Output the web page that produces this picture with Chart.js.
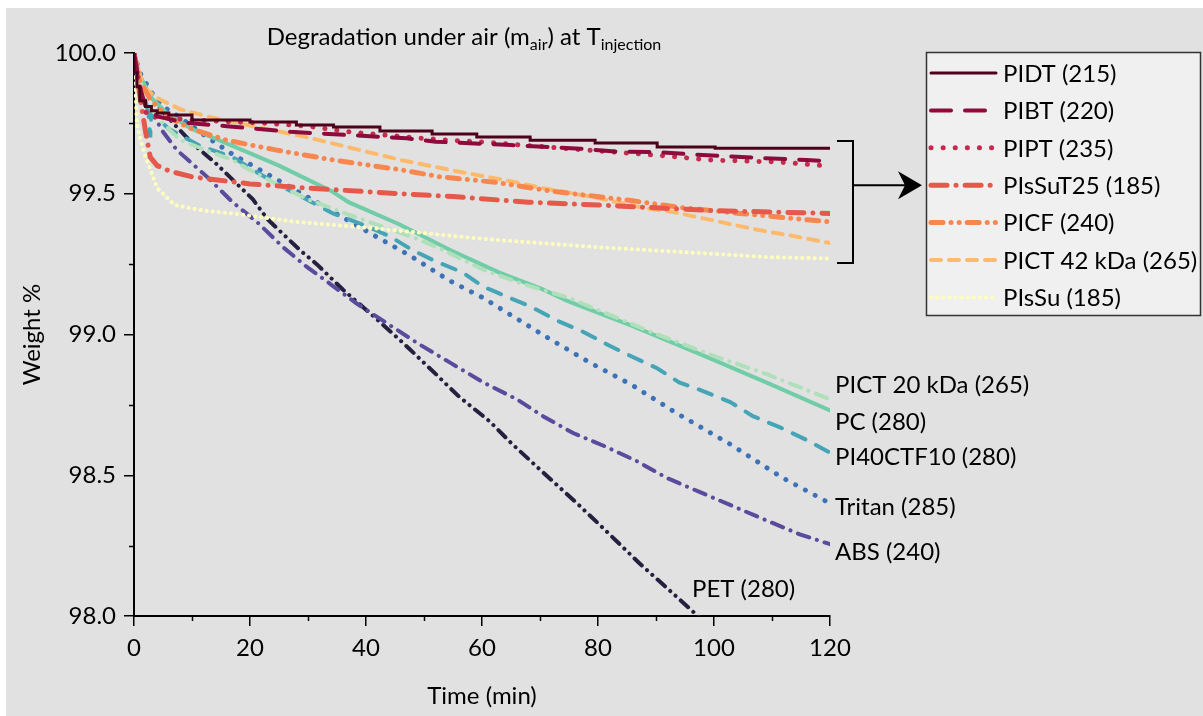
<!DOCTYPE html>
<html>
<head>
<meta charset="utf-8">
<script src="https://cdn.jsdelivr.net/npm/chart.js@4/dist/chart.umd.min.js"></script>
<style>
  html, body { margin: 0; padding: 0; background: #fff; }
  #wrap { position: absolute; left: 0; top: 0; width: 1203px; height: 716px; }
</style>
</head>
<body>
<div id="wrap"><canvas id="chart"></canvas></div>
<script>
// series names (legend order, then the labelled curves)
const names = ["PIDT (215)", "PIBT (220)", "PIPT (235)", "PIsSuT25 (185)", "PICF (240)",
  "PICT 42 kDa (265)", "PIsSu (185)", "PICT 20 kDa (265)", "PC (280)", "PI40CTF10 (280)",
  "Tritan (285)", "ABS (240)", "PET (280)"]

// time (min) / weight %
const tPIDT = [0, 0.5, 1, 2, 3, 4, 6, 10, 20, 28, 34.4, 42.4, 51.4, 59.1, 68.3, 79.5, 90.2, 100.2, 120]
const wPIDT = [100, 99.93, 99.88, 99.83, 99.81, 99.795, 99.787, 99.78, 99.762, 99.755, 99.744, 99.737, 99.723, 99.712, 99.702, 99.69, 99.68, 99.666, 99.662]

const tPIBT = [0, 1, 2, 4, 9, 16, 27, 40, 47, 52, 65, 77, 83, 90, 96, 108, 116, 120]
const wPIBT = [100, 99.88, 99.81, 99.775, 99.752, 99.74, 99.72, 99.705, 99.697, 99.685, 99.673, 99.66, 99.65, 99.648, 99.64, 99.627, 99.62, 99.615]

const tPIPT = [0, 1, 2.2, 5, 12, 23, 30, 37, 49, 56, 60, 75, 92, 99, 111, 120]
const wPIPT = [100, 99.88, 99.78, 99.77, 99.76, 99.75, 99.74, 99.72, 99.698, 99.688, 99.684, 99.66, 99.634, 99.62, 99.613, 99.598]

const tPIsSuT25 = [0, 1, 2, 2.8, 4, 6.2, 10, 14, 20, 30, 46, 55, 68, 80, 90, 100, 110, 120]
const wPIsSuT25 = [100, 99.85, 99.72, 99.63, 99.6, 99.58, 99.56, 99.55, 99.535, 99.52, 99.5, 99.49, 99.47, 99.46, 99.45, 99.44, 99.435, 99.43]

const tPICF = [0, 1, 3, 6, 10, 16, 24.6, 34.3, 46, 52.8, 62.6, 71.7, 86, 94.7, 104.5, 114.8, 120]
const wPICF = [100, 99.9, 99.83, 99.77, 99.73, 99.69, 99.655, 99.62, 99.585, 99.56, 99.54, 99.51, 99.475, 99.45, 99.43, 99.41, 99.4]

const tPICT42 = [0, 1.6, 4, 8, 13.6, 20.5, 30, 40, 46, 55.6, 63.6, 70.5, 80, 87.8, 93, 98.8, 103.3, 108, 113.6, 120]
const wPICT42 = [100, 99.88, 99.84, 99.8, 99.77, 99.74, 99.7, 99.65, 99.62, 99.58, 99.55, 99.52, 99.485, 99.45, 99.435, 99.41, 99.39, 99.37, 99.35, 99.325]

const tPIsSu = [0, 0.5, 1, 2, 4, 7, 12, 17, 28, 40, 50, 60, 80, 97, 109, 120]
const wPIsSu = [100, 99.75, 99.7, 99.63, 99.52, 99.46, 99.44, 99.43, 99.4, 99.38, 99.36, 99.34, 99.31, 99.29, 99.275, 99.27]

const tPICT20 = [0, 1, 3, 5, 8, 13, 17, 19.5, 25, 30, 37.8, 48.8, 53.3, 60.2, 67, 75, 89, 100.5, 109, 120]
const wPICT20 = [100, 99.9, 99.8, 99.75, 99.69, 99.65, 99.62, 99.59, 99.53, 99.48, 99.42, 99.34, 99.3, 99.23, 99.18, 99.13, 99.01, 98.92, 98.86, 98.77]

const tPC = [0, 1, 3, 6, 10, 17, 25, 34, 37, 45.9, 54.5, 63, 70.5, 74.6, 86, 97.6, 109, 120]
const wPC = [100, 99.92, 99.84, 99.78, 99.73, 99.67, 99.6, 99.51, 99.47, 99.39, 99.3, 99.22, 99.16, 99.12, 99.03, 98.93, 98.83, 98.73]

const tPI40 = [0, 1, 2.5, 2.8, 3, 6, 11.4, 17, 21.7, 27, 34.3, 39.5, 44, 48, 52, 56.7, 60.2, 64.8, 68.3, 72.9, 77.4, 82, 86, 90.2, 94, 98, 102.8, 106.7, 111.4, 116, 120]
const wPI40 = [100, 99.9, 99.79, 99.7, 99.79, 99.73, 99.67, 99.63, 99.57, 99.51, 99.43, 99.39, 99.35, 99.3, 99.26, 99.22, 99.17, 99.13, 99.1, 99.05, 99.01, 98.96, 98.92, 98.88, 98.83, 98.8, 98.76, 98.71, 98.67, 98.625, 98.58]

const tTritan = [0, 1, 3, 5, 8, 12, 17, 23, 31.5, 40.7, 47.6, 54.5, 60.2, 66.5, 71.2, 78.6, 85.9, 93.6, 102.8, 111.9, 120]
const wTritan = [100, 99.93, 99.86, 99.81, 99.77, 99.71, 99.64, 99.57, 99.47, 99.36, 99.28, 99.19, 99.13, 99.05, 98.99, 98.9, 98.82, 98.72, 98.61, 98.49, 98.4]

const tABS = [0, 1, 2.8, 5, 7.4, 12.6, 17, 21.2, 25.7, 29.8, 33.8, 38.4, 43.6, 48.8, 54.5, 60.2, 66, 70.5, 75.7, 81.5, 86.7, 91.9, 97.6, 103.3, 109, 114.8, 120]
const wABS = [100, 99.92, 99.8, 99.72, 99.655, 99.56, 99.47, 99.4, 99.31, 99.24, 99.18, 99.11, 99.04, 98.97, 98.9, 98.83, 98.77, 98.71, 98.65, 98.6, 98.55, 98.49, 98.44, 98.39, 98.34, 98.29, 98.255]

const tPET = [0, 1, 3.3, 6.8, 10, 14, 20.5, 23, 28.6, 31.5, 36, 41, 46.4, 52, 56, 61.4, 65, 70, 76.4, 81.5, 87, 94, 97.2, 100]
const wPET = [100, 99.9, 99.83, 99.75, 99.68, 99.61, 99.48, 99.41, 99.3, 99.25, 99.16, 99.07, 98.97, 98.86, 98.78, 98.69, 98.615, 98.52, 98.4, 98.3, 98.19, 98.06, 98.0, 97.94]

const xTicks = [0, 20, 40, 60, 80, 100, 120]
const yTicks = [98.0, 98.5, 99.0, 99.5, 100.0]

const times = [tPIDT, tPIBT, tPIPT, tPIsSuT25, tPICF, tPICT42, tPIsSu, tPICT20, tPC, tPI40, tTritan, tABS, tPET]
const weights = [wPIDT, wPIBT, wPIPT, wPIsSuT25, wPICF, wPICT42, wPIsSu, wPICT20, wPC, wPI40, wTritan, wABS, wPET]

const colors = ["#4c0019", "#8e0a3c", "#c52b4c", "#e5584a", "#f8874f", "#fdba6c", "#ffffbd",
  "#b0e0b9", "#70cda7", "#45a5b6", "#3d73b6", "#5a4b9d", "#24203f"]
const dashes = [[], [20, 14], [0.1, 12], [16, 9, 0.1, 9], [12, 8, 0.1, 8, 0.1, 8], [10, 8], [0.1, 6],
  [12, 8, 0.1, 8], [], [14, 12], [0.1, 11], [12, 8, 0.1, 8], [10, 7, 0.1, 7, 0.1, 7]]
const widths = [3, 4, 5, 5, 5, 4, 4, 4, 4, 4, 5, 4, 4]

const FONT = "Lato"

const datasets = names.map((n, i) => ({
  label: n,
  data: times[i].map((t, j) => ({ x: t, y: weights[i][j] })),
  borderColor: colors[i],
  backgroundColor: colors[i],
  borderWidth: widths[i],
  borderDash: dashes[i],
  borderCapStyle: "round",
  pointRadius: 0,
  stepped: i === 0 ? "after" : false,
  tension: 0,
  fill: false,
}))

// gray backdrop, title with subscripts, minor ticks, legend box, bracket, curve labels
const decor = {
  id: "decor",
  beforeDraw(chart) {
    const ctx = chart.ctx
    ctx.save()
    ctx.fillStyle = "#e1e1e1"
    ctx.fillRect(6, 8, chart.width - 6, chart.height - 8)
    ctx.restore()
  },
  afterDraw(chart) {
    const ctx = chart.ctx
    const xs = chart.scales.x, ys = chart.scales.y
    ctx.save()

    // minor ticks
    ctx.strokeStyle = "#000"
    ctx.lineWidth = 1.5
    ctx.beginPath()
    for (let v = 10; v < 120; v += 20) {
      const px = Math.round(xs.getPixelForValue(v)) + 0.5
      ctx.moveTo(px, ys.bottom); ctx.lineTo(px, ys.bottom + 5)
    }
    for (let v = 98.25; v < 100; v += 0.5) {
      const py = Math.round(ys.getPixelForValue(v)) + 0.5
      ctx.moveTo(xs.left, py); ctx.lineTo(xs.left - 5, py)
    }
    ctx.stroke()

    // title
    const parts = [["Degradation under air (m", 0], ["air", 1], [") at T", 0], ["injection", 1]]
    const big = "24px " + FONT, small = "16px " + FONT
    let w = 0
    parts.forEach(p => { ctx.font = p[1] ? small : big; w += ctx.measureText(p[0]).width })
    let x = 464 - w / 2
    ctx.fillStyle = "#000"
    ctx.textBaseline = "alphabetic"
    ctx.textAlign = "left"
    parts.forEach(p => {
      ctx.font = p[1] ? small : big
      ctx.fillText(p[0], x, p[1] ? 50 : 45)
      x += ctx.measureText(p[0]).width
    })

    // legend box
    ctx.fillStyle = "#f0f0f0"
    ctx.fillRect(926, 52, 274, 263)
    ctx.strokeStyle = "#333"
    ctx.lineWidth = 1.5
    ctx.strokeRect(926.5, 52.5, 274, 263)
    ctx.font = "24px " + FONT
    ctx.textBaseline = "middle"
    for (let i = 0; i < 7; i++) {
      const d = chart.data.datasets[i]
      const y = 73 + i * 37.4
      ctx.strokeStyle = d.borderColor
      ctx.lineWidth = d.borderWidth
      ctx.lineCap = "round"
      ctx.setLineDash(d.borderDash)
      ctx.beginPath()
      ctx.moveTo(931, y); ctx.lineTo(996, y)
      ctx.stroke()
      ctx.setLineDash([])
      ctx.fillStyle = "#000"
      ctx.fillText(d.label, 1003, y + 1)
    }

    // bracket + arrow
    const bt = ys.getPixelForValue(99.687), bb = ys.getPixelForValue(99.254)
    const bx = 853, am = ys.getPixelForValue(99.53)
    ctx.strokeStyle = "#000"
    ctx.lineWidth = 2
    ctx.lineCap = "butt"
    ctx.beginPath()
    ctx.moveTo(837, bt); ctx.lineTo(bx, bt); ctx.lineTo(bx, bb); ctx.lineTo(837, bb)
    ctx.moveTo(bx, am); ctx.lineTo(905, am)
    ctx.stroke()
    ctx.fillStyle = "#000"
    ctx.beginPath()
    ctx.moveTo(922, am); ctx.lineTo(898, am - 14); ctx.lineTo(905, am); ctx.lineTo(898, am + 14)
    ctx.closePath(); ctx.fill()

    // curve labels
    ctx.font = "24px " + FONT
    ctx.textBaseline = "middle"
    ctx.fillStyle = "#000"
    const labs = [[7, 835, 385], [8, 835, 422], [9, 835, 457], [10, 835, 507], [11, 835, 552], [12, 692, 589]]
    labs.forEach(l => ctx.fillText(chart.data.datasets[l[0]].label, l[1], l[2]))
    ctx.restore()
  }
}

new Chart(document.getElementById("chart"), {
  type: "line",
  data: { datasets },
  options: {
    responsive: true,
    maintainAspectRatio: false,
    animation: false,
    layout: { padding: { left: 6, top: 53, right: 373, bottom: 0 } },
    plugins: { legend: { display: false }, tooltip: { enabled: false } },
    scales: {
      x: {
        type: "linear",
        min: 0, max: 120,
        afterBuildTicks: (s) => { s.ticks = xTicks.map(v => ({ value: v })) },
        afterFit: (s) => { s.height = 100 },
        border: { color: "#000", width: 2 },
        grid: { drawOnChartArea: false, color: "#000", tickLength: 10, lineWidth: 1.5 },
        ticks: { color: "#000", font: { family: FONT, size: 24 }, padding: 8, maxRotation: 0 },
        title: { display: true, text: "Time (min)", color: "#000", font: { family: FONT, size: 24 }, padding: { top: 0, bottom: 5 } },
      },
      y: {
        min: 98, max: 100,
        afterBuildTicks: (s) => { s.ticks = yTicks.map(v => ({ value: v })) },
        afterFit: (s) => { s.width = 128 },
        border: { color: "#000", width: 2 },
        grid: { drawOnChartArea: false, color: "#000", tickLength: 10, lineWidth: 1.5 },
        ticks: { color: "#000", font: { family: FONT, size: 24 }, padding: 8, callback: (v) => v.toFixed(1) },
        title: { display: true, text: "Weight %", color: "#000", font: { family: FONT, size: 24 }, padding: { top: 12, bottom: 0 } },
      },
    },
  },
  plugins: [decor],
})
</script>
</body>
</html>
